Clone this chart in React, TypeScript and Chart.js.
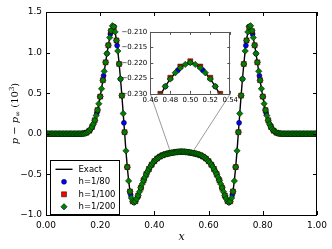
import React, { useEffect, useRef } from 'react';
import { Chart, registerables } from 'chart.js';
Chart.register(...registerables);

const W = 332;
const H = 249;
const FONT = '"DejaVu Sans", sans-serif';
const SERIF = '"DejaVu Serif", serif';

// ---- data ----
const seriesNames = ['Exact', 'h=1/80', 'h=1/100', 'h=1/200'];
const seriesSteps = [1 / 200, 1 / 80, 1 / 100, 1 / 200];

const exactY = [
  0, 0, 0, 0, 0, 0, 0, 0, 0, 0, 0, 0, 0, 0, 0, 0, 0, 0, 0, 0, 0, 0, 0, 0, 0,
  0, 0.001, 0.002, 0.004, 0.008, 0.014, 0.024, 0.038, 0.058, 0.085, 0.121, 0.167, 0.224, 0.292, 0.370, 0.458, 0.555, 0.660, 0.770, 0.880, 0.988, 1.090, 1.185, 1.270, 1.330,
  1.320, 1.255, 1.150, 1.020, 0.860, 0.675, 0.470, 0.250, 0.020, -0.210, -0.410, -0.580, -0.710, -0.790, -0.832, -0.845, -0.830, -0.800, -0.760, -0.713, -0.665, -0.618, -0.575, -0.535, -0.498,
  -0.464, -0.433, -0.405, -0.380, -0.357, -0.337, -0.320, -0.305, -0.292, -0.281, -0.272, -0.2645, -0.2580, -0.2525, -0.2478, -0.2437, -0.2400, -0.2367, -0.2335, -0.2304, -0.2276, -0.2252, -0.2232, -0.2216, -0.2205, -0.2199,
  -0.2205, -0.2216, -0.2232, -0.2252, -0.2276, -0.2304, -0.2335, -0.2367, -0.2400, -0.2437, -0.2478, -0.2525, -0.2580, -0.2645, -0.272, -0.281, -0.292, -0.305, -0.320, -0.337, -0.357, -0.380, -0.405, -0.433, -0.464,
  -0.498, -0.535, -0.575, -0.618, -0.665, -0.713, -0.760, -0.800, -0.830, -0.845, -0.832, -0.790, -0.710, -0.580, -0.410, -0.210, 0.020, 0.250, 0.470, 0.675, 0.860, 1.020, 1.150, 1.255, 1.320,
  1.330, 1.270, 1.185, 1.090, 0.988, 0.880, 0.770, 0.660, 0.555, 0.458, 0.370, 0.292, 0.224, 0.167, 0.121, 0.085, 0.058, 0.038, 0.024, 0.014, 0.008, 0.004, 0.002, 0.001, 0,
  0, 0, 0, 0, 0, 0, 0, 0, 0, 0, 0, 0, 0, 0, 0, 0, 0, 0, 0, 0, 0, 0, 0, 0, 0,
];

const h80Y = [
  0, 0, 0, 0, 0, 0, 0, 0, 0, 0, 0,
  0.003, 0.014, 0.048, 0.121, 0.257, 0.458, 0.715, 0.988, 1.230, 1.320,
  1.088, 0.675, 0.135, -0.410, -0.752, -0.845, -0.780, -0.665, -0.555, -0.464, -0.392, -0.337, -0.298, -0.272, -0.2552, -0.2437, -0.2351, -0.2276, -0.2224, -0.2199,
  -0.2224, -0.2276, -0.2351, -0.2437, -0.2552, -0.272, -0.298, -0.337, -0.392, -0.464, -0.555, -0.665, -0.780, -0.845, -0.752, -0.410, 0.135, 0.675, 1.088, 1.320,
  1.230, 0.988, 0.715, 0.458, 0.257, 0.121, 0.048, 0.014, 0.003,
  0, 0, 0, 0, 0, 0, 0, 0, 0, 0, 0,
];

const h100Y = [
  0, 0, 0, 0, 0, 0, 0, 0, 0, 0, 0, 0, 0,
  0.001, 0.004, 0.014, 0.038, 0.085, 0.167, 0.292, 0.458, 0.660, 0.880, 1.090, 1.265, 1.310,
  1.150, 0.860, 0.470, 0.020, -0.410, -0.710, -0.832, -0.830, -0.760, -0.665, -0.575, -0.498, -0.433, -0.380, -0.337, -0.305, -0.281, -0.2642, -0.2521, -0.2433, -0.2363, -0.2300, -0.2248, -0.2212, -0.2195,
  -0.2212, -0.2248, -0.2300, -0.2363, -0.2433, -0.2521, -0.2642, -0.281, -0.305, -0.337, -0.380, -0.433, -0.498, -0.575, -0.665, -0.760, -0.830, -0.832, -0.710, -0.410, 0.020, 0.470, 0.860, 1.150, 1.310,
  1.265, 1.090, 0.880, 0.660, 0.458, 0.292, 0.167, 0.085, 0.038, 0.014, 0.004, 0.001,
  0, 0, 0, 0, 0, 0, 0, 0, 0, 0, 0, 0, 0,
];

const h200Y = [
  0, 0, 0, 0, 0, 0, 0, 0, 0, 0, 0, 0, 0, 0, 0, 0, 0, 0, 0, 0, 0, 0, 0, 0, 0,
  0, 0.001, 0.002, 0.004, 0.008, 0.014, 0.024, 0.038, 0.058, 0.085, 0.121, 0.167, 0.224, 0.292, 0.370, 0.458, 0.555, 0.660, 0.770, 0.880, 0.988, 1.090, 1.185, 1.270, 1.330,
  1.320, 1.255, 1.150, 1.020, 0.860, 0.675, 0.470, 0.250, 0.020, -0.210, -0.410, -0.580, -0.710, -0.790, -0.832, -0.845, -0.830, -0.800, -0.760, -0.713, -0.665, -0.618, -0.575, -0.535, -0.498,
  -0.464, -0.433, -0.405, -0.380, -0.357, -0.337, -0.320, -0.305, -0.292, -0.281, -0.272, -0.2645, -0.2580, -0.2525, -0.2478, -0.2437, -0.2400, -0.2367, -0.2335, -0.2304, -0.2276, -0.2252, -0.2232, -0.2216, -0.2205, -0.2199,
  -0.2205, -0.2216, -0.2232, -0.2252, -0.2276, -0.2304, -0.2335, -0.2367, -0.2400, -0.2437, -0.2478, -0.2525, -0.2580, -0.2645, -0.272, -0.281, -0.292, -0.305, -0.320, -0.337, -0.357, -0.380, -0.405, -0.433, -0.464,
  -0.498, -0.535, -0.575, -0.618, -0.665, -0.713, -0.760, -0.800, -0.830, -0.845, -0.832, -0.790, -0.710, -0.580, -0.410, -0.210, 0.020, 0.250, 0.470, 0.675, 0.860, 1.020, 1.150, 1.255, 1.320,
  1.330, 1.270, 1.185, 1.090, 0.988, 0.880, 0.770, 0.660, 0.555, 0.458, 0.370, 0.292, 0.224, 0.167, 0.121, 0.085, 0.058, 0.038, 0.024, 0.014, 0.008, 0.004, 0.002, 0.001, 0,
  0, 0, 0, 0, 0, 0, 0, 0, 0, 0, 0, 0, 0, 0, 0, 0, 0, 0, 0, 0, 0, 0, 0, 0, 0,
];

const xTicks = [0, 0.2, 0.4, 0.6, 0.8, 1.0];
const xTickLabels = ['0.00', '0.20', '0.40', '0.60', '0.80', '1.00'];
const yTicks = [-1.0, -0.5, 0.0, 0.5, 1.0, 1.5];
const yTickLabels = ['\u22121.0', '\u22120.5', '0.0', '0.5', '1.0', '1.5'];
const insetXTicks = [0.46, 0.48, 0.5, 0.52, 0.54];
const insetXTickLabels = ['0.46', '0.48', '0.50', '0.52', '0.54'];
const insetYTicks = [-0.23, -0.225, -0.22, -0.215, -0.21];
const insetYTickLabels = ['\u22120.230', '\u22120.225', '\u22120.220', '\u22120.215', '\u22120.210'];
const insetXRange = [0.46, 0.54];
const insetYRange = [-0.23, -0.21];
// inset placement, fraction of the main axes (left, right, top, bottom from top)
const insetFrac = { l: 0.385, r: 0.68, t: 0.098, b: 0.403 };

type Area = { left: number; right: number; top: number; bottom: number };

function insetRect(a: Area) {
  const w = a.right - a.left;
  const h = a.bottom - a.top;
  return {
    l: a.left + insetFrac.l * w,
    r: a.left + insetFrac.r * w,
    t: a.top + insetFrac.t * h,
    b: a.top + insetFrac.b * h,
  };
}

function buildDatasets() {
  const arrays = [exactY, h80Y, h100Y, h200Y];
  const styles: any[] = [
    { showLine: true, borderColor: '#000', borderWidth: 1.4, pointRadius: 0, order: 4 },
    { showLine: false, pointStyle: 'circle', pointRadius: 2.5, pointBackgroundColor: '#0000ff', order: 3 },
    { showLine: false, pointStyle: 'rect', pointRadius: 3.5, pointBackgroundColor: '#ff0000', order: 2 },
    { showLine: false, pointStyle: 'rectRot', pointRadius: 3.2, pointBackgroundColor: '#008000', order: 1 },
  ];
  return arrays.map((arr, k) => ({
    label: seriesNames[k],
    data: arr.map((v, i) => ({ x: i * seriesSteps[k], y: v })),
    pointBorderColor: '#000',
    pointBorderWidth: 0.5,
    pointHoverRadius: 0,
    clip: 0,
    ...styles[k],
  }));
}

function drawFrameTicks(chart: any, len: number, color: string) {
  const { ctx, chartArea: a, scales } = chart;
  ctx.save();
  ctx.strokeStyle = color;
  ctx.lineWidth = 1;
  ctx.beginPath();
  for (const t of scales.x.ticks) {
    const px = Math.round(scales.x.getPixelForValue(t.value)) + 0.5;
    ctx.moveTo(px, a.bottom);
    ctx.lineTo(px, a.bottom - len);
    ctx.moveTo(px, a.top);
    ctx.lineTo(px, a.top + len);
  }
  for (const t of scales.y.ticks) {
    const py = Math.round(scales.y.getPixelForValue(t.value)) + 0.5;
    ctx.moveTo(a.left, py);
    ctx.lineTo(a.left + len, py);
    ctx.moveTo(a.right, py);
    ctx.lineTo(a.right - len, py);
  }
  ctx.stroke();
  ctx.strokeRect(Math.round(a.left) + 0.5, Math.round(a.top) + 0.5, Math.round(a.right) - Math.round(a.left) - 1, Math.round(a.bottom) - Math.round(a.top));
  ctx.restore();
}

function drawMarker(ctx: CanvasRenderingContext2D, k: number, x: number, y: number) {
  ctx.save();
  ctx.lineWidth = 0.5;
  ctx.strokeStyle = '#000';
  ctx.beginPath();
  if (k === 1) {
    ctx.fillStyle = '#0000ff';
    ctx.arc(x, y, 2.5, 0, Math.PI * 2);
  } else if (k === 2) {
    ctx.fillStyle = '#ff0000';
    ctx.rect(x - 2.5, y - 2.5, 5, 5);
  } else {
    ctx.fillStyle = '#008000';
    ctx.moveTo(x, y - 3.2);
    ctx.lineTo(x + 3.2, y);
    ctx.lineTo(x, y + 3.2);
    ctx.lineTo(x - 3.2, y);
    ctx.closePath();
  }
  ctx.fill();
  ctx.stroke();
  ctx.restore();
}

function drawLegend(chart: any) {
  const { ctx, chartArea: a } = chart;
  const bw = 69;
  const bh = 54;
  const bx = Math.round(a.left + 4) + 0.5;
  const by = Math.round(a.bottom - 1.5 - bh) + 0.5;
  ctx.save();
  ctx.fillStyle = '#fff';
  ctx.fillRect(bx, by, bw, bh);
  ctx.strokeStyle = '#000';
  ctx.lineWidth = 1;
  ctx.strokeRect(bx, by, bw, bh);
  ctx.font = `8.5px ${FONT}`;
  ctx.textBaseline = 'middle';
  ctx.textAlign = 'left';
  for (let k = 0; k < seriesNames.length; k++) {
    const y = by + 8.8 + k * 12.5;
    if (k === 0) {
      ctx.strokeStyle = '#000';
      ctx.lineWidth = 1.4;
      ctx.beginPath();
      ctx.moveTo(bx + 5, y);
      ctx.lineTo(bx + 22, y);
      ctx.stroke();
    } else {
      drawMarker(ctx, k, bx + 13.5, y);
    }
    ctx.fillStyle = '#000';
    ctx.fillText(seriesNames[k], bx + 28, y);
  }
  ctx.restore();
}

function drawTitles(chart: any) {
  const { ctx, chartArea: a } = chart;
  ctx.save();
  ctx.fillStyle = '#000';
  // x title
  ctx.font = `italic 11px ${SERIF}`;
  ctx.textAlign = 'center';
  ctx.textBaseline = 'middle';
  ctx.fillText('x', (a.left + a.right) / 2, 237);
  // y title
  const parts = [
    { t: 'p', f: `italic 10px ${SERIF}`, dy: 0 },
    { t: ' \u2212 ', f: `10px ${SERIF}`, dy: 0 },
    { t: 'p', f: `italic 10px ${SERIF}`, dy: 0 },
    { t: '\u221E', f: `7px ${SERIF}`, dy: 2.5 },
    { t: ' (10', f: `10px ${SERIF}`, dy: 0 },
    { t: '3', f: `7px ${SERIF}`, dy: -4 },
    { t: ')', f: `10px ${SERIF}`, dy: 0 },
  ];
  let total = 0;
  const widths = parts.map((p) => {
    ctx.font = p.f;
    const w = ctx.measureText(p.t).width;
    total += w;
    return w;
  });
  ctx.translate(14, (a.top + a.bottom) / 2);
  ctx.rotate(-Math.PI / 2);
  ctx.textAlign = 'left';
  ctx.textBaseline = 'alphabetic';
  let x = -total / 2;
  parts.forEach((p, i) => {
    ctx.font = p.f;
    ctx.fillText(p.t, x, 3.5 + p.dy);
    x += widths[i];
  });
  ctx.restore();
}

const mainPlugin = {
  id: 'mainDecor',
  beforeDatasetsDraw(chart: any) {
    const { ctx, chartArea: a, scales } = chart;
    const r = insetRect(a);
    const x1 = scales.x.getPixelForValue(insetXRange[0]);
    const x2 = scales.x.getPixelForValue(insetXRange[1]);
    const y1 = scales.y.getPixelForValue(insetYRange[0]);
    const y2 = scales.y.getPixelForValue(insetYRange[1]);
    ctx.save();
    ctx.strokeStyle = '#808080';
    ctx.lineWidth = 0.8;
    ctx.strokeRect(x1, y2, x2 - x1, y1 - y2);
    ctx.beginPath();
    ctx.moveTo(r.l, r.b);
    ctx.lineTo(x1, y1);
    ctx.moveTo(r.r, r.b);
    ctx.lineTo(x2, y1);
    ctx.stroke();
    ctx.restore();
  },
  afterDraw(chart: any) {
    drawFrameTicks(chart, 4, '#000');
    drawLegend(chart);
    drawTitles(chart);
  },
};

const insetPlugin = {
  id: 'insetDecor',
  beforeDatasetsDraw(chart: any) {
    const { ctx, chartArea: a } = chart;
    ctx.save();
    ctx.fillStyle = '#fff';
    ctx.fillRect(a.left, a.top, a.right - a.left, a.bottom - a.top);
    ctx.restore();
  },
  afterDraw(chart: any) {
    drawFrameTicks(chart, 3, '#555');
  },
};

function makeScale(min: number, max: number, ticks: number[], labels: string[], size: number, pad: number, fit: (s: any) => void) {
  return {
    type: 'linear' as const,
    min,
    max,
    afterBuildTicks: (s: any) => {
      s.ticks = ticks.map((v) => ({ value: v }));
    },
    afterFit: fit,
    ticks: {
      autoSkip: false,
      maxRotation: 0,
      minRotation: 0,
      padding: pad,
      color: '#000',
      font: { family: FONT, size },
      callback: (_v: any, i: number) => labels[i],
    },
    grid: { display: false, drawTicks: false },
    border: { display: false },
  };
}

export default function App() {
  const mainRef = useRef<HTMLCanvasElement>(null);
  const insetRef = useRef<HTMLCanvasElement>(null);

  useEffect(() => {
    const main = new Chart(mainRef.current as HTMLCanvasElement, {
      type: 'scatter',
      data: { datasets: buildDatasets() as any },
      plugins: [mainPlugin],
      options: {
        animation: false,
        responsive: false,
        devicePixelRatio: 1,
        events: [],
        layout: { padding: { left: 0, right: 11, top: 12, bottom: 0 } },
        plugins: { legend: { display: false }, tooltip: { enabled: false } },
        scales: {
          x: makeScale(0, 1, xTicks, xTickLabels, 9, 5, (s: any) => { s.height = 34; }),
          y: makeScale(-1, 1.5, yTicks, yTickLabels, 9, 4, (s: any) => { s.width = 46; }),
        },
      } as any,
    });
    const r = insetRect(main.chartArea);
    const inset = new Chart(insetRef.current as HTMLCanvasElement, {
      type: 'scatter',
      data: { datasets: buildDatasets() as any },
      plugins: [insetPlugin],
      options: {
        animation: false,
        responsive: false,
        devicePixelRatio: 1,
        events: [],
        layout: { padding: { left: r.l - 47, right: W - r.r, top: r.t, bottom: H - r.b - 16 } },
        plugins: { legend: { display: false }, tooltip: { enabled: false } },
        scales: {
          x: makeScale(insetXRange[0], insetXRange[1], insetXTicks, insetXTickLabels, 7, 2, (s: any) => { s.height = 16; }),
          y: makeScale(insetYRange[0], insetYRange[1], insetYTicks, insetYTickLabels, 7, 3, (s: any) => { s.width = 47; }),
        },
      } as any,
    });
    return () => {
      inset.destroy();
      main.destroy();
    };
  }, []);

  return (
    <div style={{ position: 'fixed', left: 0, top: 0, width: W, height: H, background: '#fff' }}>
      <canvas ref={mainRef} width={W} height={H} style={{ position: 'absolute', left: 0, top: 0, width: W, height: H }} />
      <canvas ref={insetRef} width={W} height={H} style={{ position: 'absolute', left: 0, top: 0, width: W, height: H }} />
    </div>
  );
}
